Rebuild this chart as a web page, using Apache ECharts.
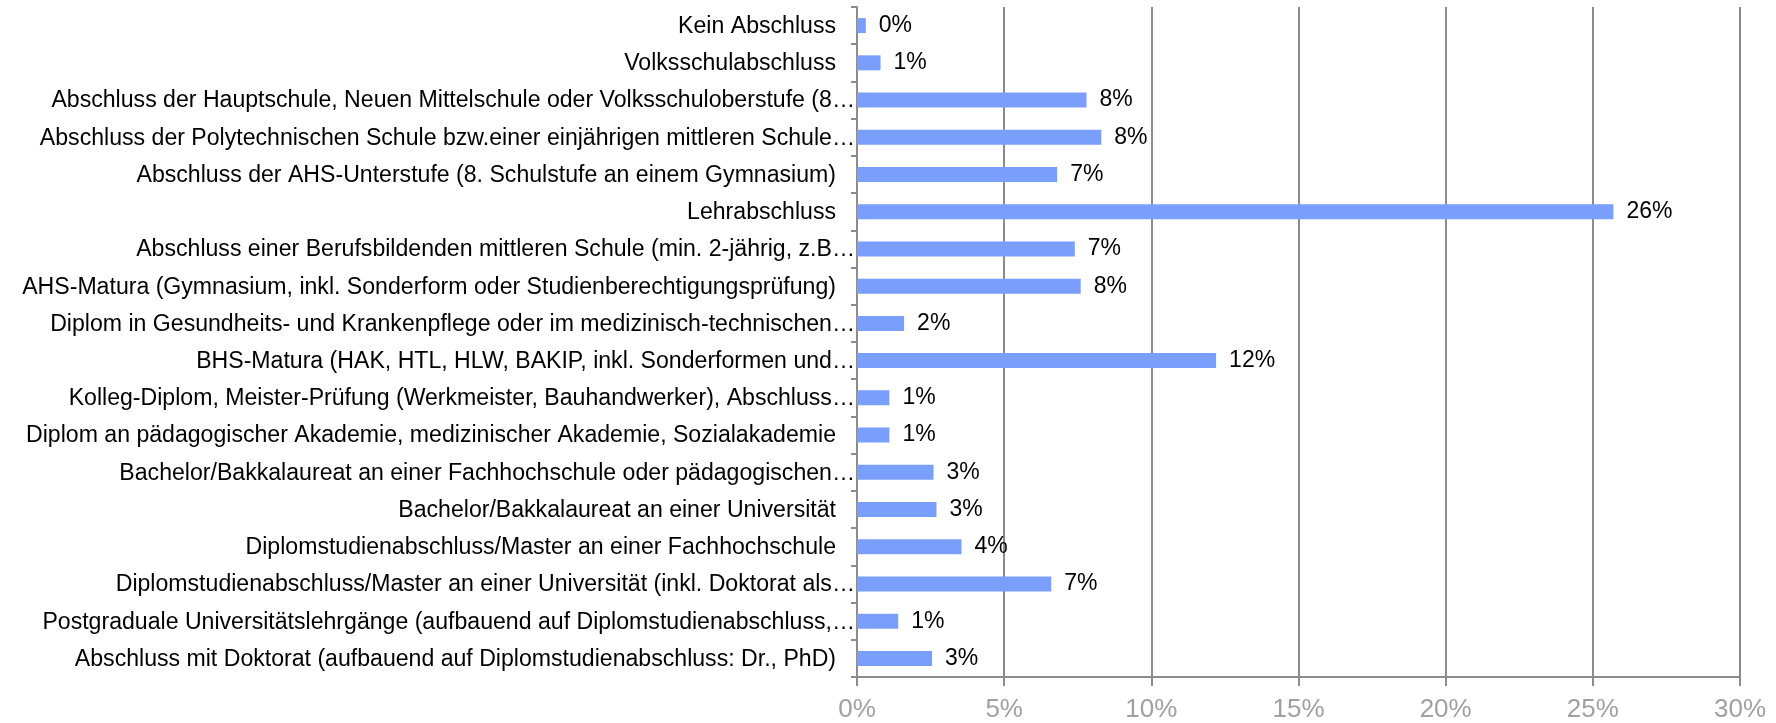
<!DOCTYPE html>
<html>
<head>
<meta charset="utf-8">
<title>Abschluss</title>
<script src="https://cdn.jsdelivr.net/npm/echarts@6/dist/echarts.min.js"></script>
<style>
    html, body { margin: 0; padding: 0; background: #fff; }
    #chart { width: 1776px; height: 723px; }
</style>
</head>
<body>
<div id="chart"></div>
<script>
var categories = [
    'Kein Abschluss',
    'Volksschulabschluss',
    'Abschluss der Hauptschule, Neuen Mittelschule oder Volksschuloberstufe (8\u2026',
    'Abschluss der Polytechnischen Schule bzw.einer einj\u00e4hrigen mittleren Schule\u2026',
    'Abschluss der AHS-Unterstufe (8. Schulstufe an einem Gymnasium)',
    'Lehrabschluss',
    'Abschluss einer Berufsbildenden mittleren Schule (min. 2-j\u00e4hrig, z.B\u2026',
    'AHS-Matura (Gymnasium, inkl. Sonderform oder Studienberechtigungspr\u00fcfung)',
    'Diplom in Gesundheits- und Krankenpflege oder im medizinisch-technischen\u2026',
    'BHS-Matura (HAK, HTL, HLW, BAKIP, inkl. Sonderformen und\u2026',
    'Kolleg-Diplom, Meister-Pr\u00fcfung (Werkmeister, Bauhandwerker), Abschluss\u2026',
    'Diplom an p\u00e4dagogischer Akademie, medizinischer Akademie, Sozialakademie',
    'Bachelor/Bakkalaureat an einer Fachhochschule oder p\u00e4dagogischen\u2026',
    'Bachelor/Bakkalaureat an einer Universit\u00e4t',
    'Diplomstudienabschluss/Master an einer Fachhochschule',
    'Diplomstudienabschluss/Master an einer Universit\u00e4t (inkl. Doktorat als\u2026',
    'Postgraduale Universit\u00e4tslehrg\u00e4nge (aufbauend auf Diplomstudienabschluss,\u2026',
    'Abschluss mit Doktorat (aufbauend auf Diplomstudienabschluss: Dr., PhD)'
];
var shares = [0.3, 0.8, 7.8, 8.3, 6.8, 25.7, 7.4, 7.6, 1.6, 12.2, 1.1, 1.1, 2.6, 2.7, 3.55, 6.6, 1.4, 2.55];
var xTicks = [0, 5, 10, 15, 20, 25, 30];

var myChart = echarts.init(document.getElementById('chart'));
var fontName = '"Liberation Sans", Arial, sans-serif';
var option = {
    animation: false,
    grid: {
        left: 857,
        right: 36,
        top: 7,
        bottom: 46
    },
    xAxis: {
        type: 'value',
        min: xTicks[0],
        max: xTicks[xTicks.length - 1],
        interval: 5,
        axisLine: { show: true, lineStyle: { color: '#8c8c8c', width: 2 } },
        axisTick: { show: true, length: 9, lineStyle: { color: '#8c8c8c', width: 2 } },
        splitLine: { show: true, lineStyle: { color: '#8c8c8c', width: 2 } },
        axisLabel: {
            margin: 20,
            color: '#a0a0a0',
            fontSize: 26,
            fontFamily: fontName,
            formatter: '{value}%'
        }
    },
    yAxis: {
        type: 'category',
        inverse: true,
        data: categories,
        axisLine: { show: true, lineStyle: { color: '#8c8c8c', width: 2 } },
        axisTick: { show: true, length: 6, lineStyle: { color: '#8c8c8c', width: 2 } },
        axisLabel: {
            margin: 2,
            color: '#000',
            fontSize: 23.1,
            fontFamily: fontName,
            formatter: function (v) {
                if (v.charAt(v.length - 1) === '\u2026') {
                    return '{t|' + v + '}';
                }
                return '{p|' + v + '}';
            },
            rich: {
                t: { fontSize: 23.1, fontFamily: fontName, color: '#000', padding: [2, 0, 0, 0] },
                p: { fontSize: 23.1, fontFamily: fontName, color: '#000', padding: [2, 19, 0, 0] }
            }
        }
    },
    series: [{
        type: 'bar',
        data: shares,
        barWidth: 15,
        itemStyle: { color: '#7a9efc' },
        label: {
            show: true,
            position: 'right',
            distance: 13,
            color: '#000',
            fontSize: 23,
            fontFamily: fontName,
            padding: [2, 0, 0, 0],
            formatter: function (p) {
                return Math.round(p.value) + '%';
            }
        }
    }]
};
option && myChart.setOption(option);
window.onresize = function () {
    myChart.resize();
};
</script>
</body>
</html>
